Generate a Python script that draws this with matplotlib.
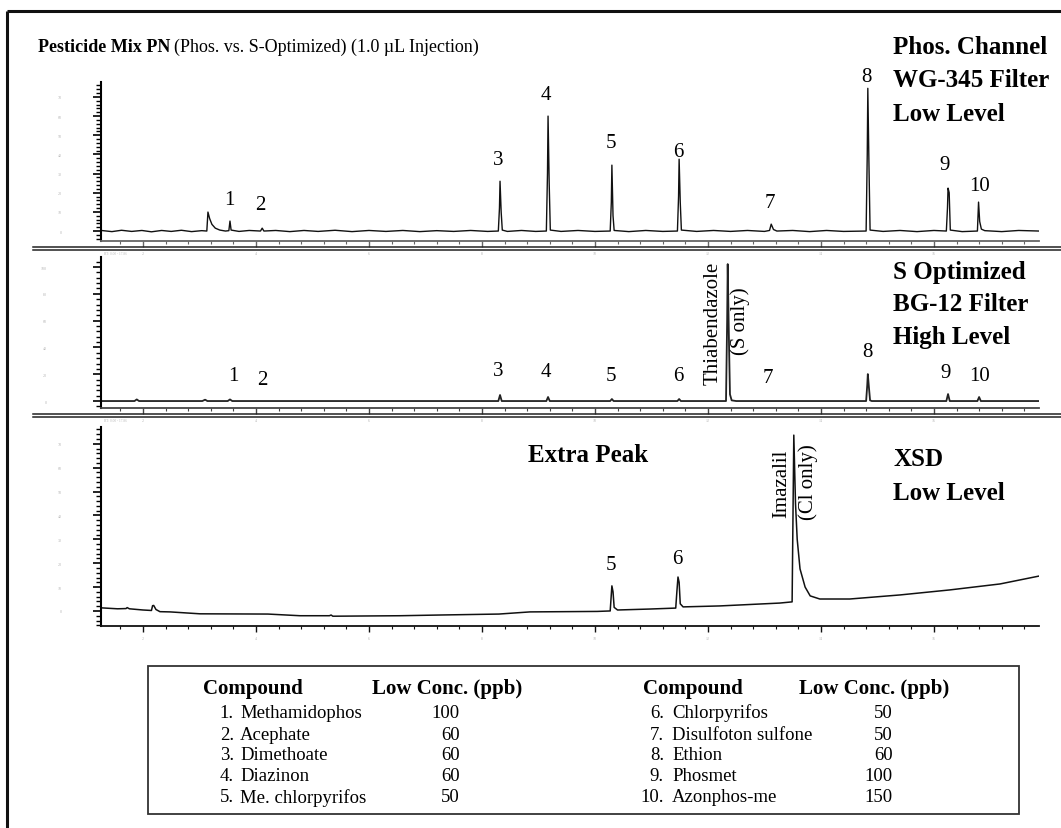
import matplotlib
matplotlib.use("Agg")
import matplotlib.pyplot as plt
from matplotlib.patches import Rectangle
from matplotlib.ticker import MultipleLocator

plt.rcParams["font.family"] = ["Liberation Serif", "DejaVu Serif"]

W, H = 1061, 829
T_MIN, T_MAX = 1.257, 17.86

# Phos. channel (WG-345 filter, low level): retention time (min), response
phos_t = [1.26, 1.45, 1.62, 1.80, 1.98, 2.15, 2.33, 2.50, 2.68, 2.86, 3.04, 3.13,
          3.15, 3.18, 3.22, 3.28, 3.36, 3.46, 3.52, 3.54, 3.56, 3.70, 3.88, 4.08,
          4.11, 4.14, 4.35, 4.60, 4.85, 5.10, 5.40, 5.70, 6.00, 6.30, 6.60, 6.90,
          7.20, 7.50, 7.80, 8.10, 8.29, 8.31, 8.32, 8.34, 8.36, 8.45, 8.70, 8.95,
          9.14, 9.16, 9.17, 9.19, 9.21, 9.40, 9.70, 10.00, 10.27, 10.29, 10.30, 10.32,
          10.34, 10.60, 10.90, 11.20, 11.46, 11.48, 11.49, 11.51, 11.53, 11.80, 12.10, 12.40,
          12.70, 13.00, 13.09, 13.12, 13.16, 13.22, 13.50, 13.80, 14.10, 14.40, 14.80, 14.82,
          14.83, 14.85, 14.87, 15.10, 15.40, 15.70, 16.00, 16.22, 16.24, 16.25, 16.27, 16.29,
          16.50, 16.77, 16.79, 16.81, 16.84, 16.90, 17.20, 17.50, 17.86]
phos_y = [0.3, -0.3, 0.4, -0.2, 0.3, -0.4, 0.3, -0.2, 0.4, -0.3, 0.2, 0.0,
          9.9, 6.5, 3.5, 1.5, 0.5, 0.0, 0.2, 5.2, 0.5, -0.2, 0.3, 0.0,
          1.5, 0.0, 0.3, -0.3, 0.3, -0.2, 0.4, -0.3, 0.3, -0.2, 0.3, -0.3,
          0.2, -0.2, 0.3, -0.2, 0.0, 12.0, 26.0, 10.0, 0.5, -0.2, 0.3, -0.2,
          0.0, 30.0, 60.0, 25.0, 0.5, -0.2, 0.3, -0.2, 0.0, 15.0, 34.4, 8.0,
          0.3, -0.3, 0.3, -0.2, 0.0, 18.0, 37.5, 15.0, 0.5, -0.2, 0.3, -0.2,
          0.3, -0.2, 0.3, 3.6, 0.8, 0.0, 0.3, -0.3, 0.3, -0.2, 0.0, 40.0,
          74.5, 35.0, 0.5, -0.2, 0.3, -0.3, 0.3, 0.0, 12.0, 22.4, 20.0, 0.5,
          -0.3, 0.0, 15.1, 5.0, 1.0, 0.2, -0.3, 0.3, 0.0]

# S optimized (BG-12 filter, high level)
sopt_t = [1.26, 1.85, 1.89, 1.93, 3.05, 3.10, 3.14, 3.50, 3.54, 3.58, 8.29, 8.32,
          8.35, 9.14, 9.17, 9.20, 10.27, 10.30, 10.33, 11.46, 11.49, 11.52, 12.32, 12.34,
          12.35, 12.37, 12.39, 12.42, 12.50, 14.80, 14.82, 14.83, 14.85, 14.87, 14.90, 16.22,
          16.25, 16.28, 16.77, 16.80, 16.83, 17.86]
sopt_y = [0.0, 0.0, 1.2, 0.0, 0.0, 1.0, 0.0, 0.0, 1.2, 0.0, 0.0, 4.5,
          0.0, 0.0, 3.0, 0.0, 0.0, 1.5, 0.0, 0.0, 1.5, 0.0, 0.0, 60.0,
          102.2, 50.0, 5.0, 0.5, 0.0, 0.0, 12.0, 20.1, 10.0, 0.5, 0.0, 0.0,
          5.2, 0.0, 0.0, 3.0, 0.0, 0.0]

# XSD (low level)
xsd_t = [1.26, 1.55, 1.70, 1.72, 1.76, 2.00, 2.15, 2.17, 2.19, 2.23, 2.30, 2.48,
         3.01, 4.21, 4.78, 5.30, 5.33, 5.36, 6.55, 7.26, 8.30, 8.85, 10.04, 10.27,
         10.29, 10.30, 10.32, 10.34, 10.40, 10.97, 11.43, 11.45, 11.47, 11.49, 11.51, 11.56,
         12.21, 13.27, 13.49, 13.52, 13.55, 13.58, 13.63, 13.72, 13.81, 13.98, 14.51, 15.40,
         16.28, 17.17, 17.86]
xsd_y = [1.3, 0.9, 1.0, 1.4, 0.9, 0.4, 0.2, 2.2, 2.3, 0.6, -0.3, -0.4,
         -1.2, -1.3, -2.0, -2.0, -1.7, -2.2, -2.0, -1.7, -1.3, -0.4, -0.2, 0.0,
         7.0, 10.5, 8.0, 1.5, 0.4, 0.8, 1.2, 8.0, 14.2, 12.0, 3.0, 1.7,
         2.1, 3.3, 3.8, 73.6, 45.0, 30.0, 17.6, 10.0, 6.3, 5.0, 5.0, 6.7,
         8.8, 11.3, 14.6]

compounds = ["Methamidophos", "Acephate", "Dimethoate", "Diazinon", "Me. chlorpyrifos",
             "Chlorpyrifos", "Disulfoton sulfone", "Ethion", "Phosmet", "Azonphos-me"]
low_conc = [100, 60, 60, 60, 50, 50, 50, 60, 100, 150]

phos_labels = ["1", "2", "3", "4", "5", "6", "7", "8", "9", "10"]
phos_label_xy = [(229, 200), (260, 205), (498, 160), (546, 95), (611, 143),
                 (678, 152), (770, 203), (866, 77), (945, 165), (980, 186)]
sopt_label_xy = [(233, 376), (262, 380), (498, 371), (546, 372), (611, 376),
                 (678, 376), (768, 378), (867, 352), (946, 373), (980, 376)]

fig = plt.figure(figsize=(W / 100, H / 100), dpi=100)


def make_panel(top, bottom, ylim, ymaj, ymin, xcolor, ylabpad):
    ax = fig.add_axes([101 / W, 1 - bottom / H, (1039 - 101) / W, (bottom - top) / H])
    ax.set_xlim(T_MIN, T_MAX)
    ax.set_ylim(*ylim)
    ax.patch.set_alpha(0)
    for s in ["top", "right"]:
        ax.spines[s].set_visible(False)
    ax.spines["left"].set_linewidth(1.5)
    ax.spines["bottom"].set_linewidth(1.3)
    ax.spines["bottom"].set_color(xcolor)
    ax.xaxis.set_major_locator(MultipleLocator(2))
    ax.xaxis.set_minor_locator(MultipleLocator(0.4))
    ax.yaxis.set_major_locator(MultipleLocator(ymaj))
    ax.yaxis.set_minor_locator(MultipleLocator(ymin))
    ax.tick_params(axis="y", which="major", length=6, width=1.2, labelsize=3,
                   labelcolor="#b5b5b5", pad=ylabpad)
    ax.tick_params(axis="y", which="minor", length=3.5, width=1.0)
    ax.tick_params(axis="x", which="major", length=4, width=1.0, labelsize=3,
                   labelcolor="#b5b5b5", pad=3, color=xcolor)
    ax.tick_params(axis="x", which="minor", length=2.5, width=0.8, color=xcolor)
    return ax


ax1 = make_panel(83, 242, (-5.2, 77.8), 10, 2, "#666666", 22)
ax1.plot(phos_t, phos_y, color="#111111", lw=1.0)

ax2 = make_panel(258, 409, (-5.2, 107.5), 20, 4, "#444444", 33)
ax2.plot(sopt_t, sopt_y, color="#222222", lw=1.3)

ax3 = make_panel(428, 627, (-6.3, 77.0), 10, 2, "#111111", 22)
ax3.plot(xsd_t, xsd_y, color="#111111", lw=1.1)

# overlay in pixel coordinates for frame, separators and annotations
ov = fig.add_axes([0, 0, 1, 1])
ov.set_xlim(0, W)
ov.set_ylim(H, 0)
ov.axis("off")
ov.patch.set_alpha(0)

ov.plot([7, W], [12, 12], color="#111111", lw=2.2, solid_capstyle="butt")
ov.plot([7, 7], [12, H], color="#111111", lw=2.2, solid_capstyle="butt")
for y in (248, 251, 415, 418):
    ov.plot([33, W], [y, y], color="#222222", lw=1.1)

for y, txt in ((254, "RT: 0.00 - 17.86"), (421, "RT: 0.00 - 17.86")):
    ov.text(104, y, txt, fontsize=2.5, color="#bbbbbb", va="center")

# title
t1 = ov.text(38, 47, "Pesticide Mix PN", fontsize=13, fontweight="bold", va="center")
fig.canvas.draw()
bb = t1.get_window_extent()
ov.text(bb.x1 + 4, 47, "(Phos. vs. S-Optimized) (1.0 µL Injection)", fontsize=13, va="center")

# channel descriptions
for lines, ys in ((["Phos. Channel", "WG-345 Filter", "Low Level"], [47, 80, 114]),
                  (["S Optimized", "BG-12 Filter", "High Level"], [272, 304, 337]),
                  (["XSD", "Low Level"], [460, 493])):
    for s, y in zip(lines, ys):
        ov.text(893, y, s, fontsize=18, fontweight="bold", va="center", ha="left")

ov.text(588, 455, "Extra Peak", fontsize=18, fontweight="bold", va="center", ha="center")

# peak numbers
for lab, (x, y) in zip(phos_labels, phos_label_xy):
    ov.text(x, y, lab, fontsize=15, ha="center", va="center")
for lab, (x, y) in zip(phos_labels, sopt_label_xy):
    ov.text(x, y, lab, fontsize=15, ha="center", va="center")
ov.text(611, 566, "5", fontsize=15, ha="center", va="center")
ov.text(677, 559, "6", fontsize=15, ha="center", va="center")

ov.text(713, 323, "Thiabendazole", fontsize=15, rotation=90, ha="center", va="center")
ov.text(740, 321, "(S only)", fontsize=15, rotation=90, ha="center", va="center")
ov.text(782, 484, "Imazalil", fontsize=15, rotation=90, ha="center", va="center")
ov.text(808, 482, "(Cl only)", fontsize=15, rotation=90, ha="center", va="center")

# compound table
ov.add_patch(Rectangle((148, 667), 871, 148, fill=False, edgecolor="#333333", lw=1.3))
cols = [(203, 372, 234, 240, 460), (643, 799, 664, 672, 893)]
row_y = [713, 735, 756, 777, 798]
for c, (xh1, xh2, xnum, xname, xval) in enumerate(cols):
    ov.text(xh1, 689, "Compound", fontsize=15, fontweight="bold", va="center")
    ov.text(xh2, 689, "Low Conc. (ppb)", fontsize=15, fontweight="bold", va="center")
    for r in range(5):
        i = c * 5 + r
        ov.text(xnum, row_y[r], f"{i + 1}.", fontsize=13.5, ha="right", va="center")
        ov.text(xname, row_y[r], compounds[i], fontsize=13.5, ha="left", va="center")
        ov.text(xval, row_y[r], str(low_conc[i]), fontsize=13.5, ha="right", va="center")

fig.savefig("out.png", dpi=100)
